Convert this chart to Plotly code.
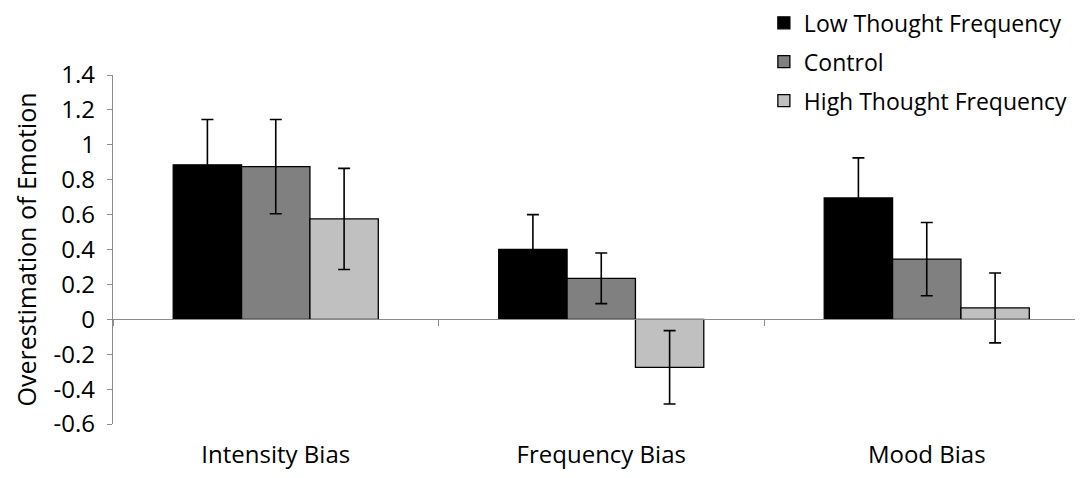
import plotly.graph_objects as go

categories = ["Intensity Bias", "Frequency Bias", "Mood Bias"]
series_names = ["Low Thought Frequency", "Control", "High Thought Frequency"]
low_vals = [0.885, 0.40, 0.695]
low_err = [0.26, 0.20, 0.23]
control_vals = [0.875, 0.235, 0.345]
control_err = [0.27, 0.145, 0.21]
high_vals = [0.575, -0.275, 0.065]
high_err = [0.29, 0.21, 0.20]
y_ticks = [-0.6, -0.4, -0.2, 0, 0.2, 0.4, 0.6, 0.8, 1, 1.2, 1.4]
y_tick_text = ["-0.6", "-0.4", "-0.2", "0", "0.2", "0.4", "0.6", "0.8", "1", "1.2", "1.4"]

colors = ["#000000", "#808080", "#C0C0C0"]
FONT = "Open Sans"
AX = "#8C8C8C"

fig = go.Figure()
for i, (name, vals, errs) in enumerate(zip(series_names,
                                            [low_vals, control_vals, high_vals],
                                            [low_err, control_err, high_err])):
    fig.add_trace(go.Bar(
        x=categories, y=vals, name=name,
        marker=dict(color=colors[i], line=dict(color="#000000", width=1.3)),
        error_y=dict(type="data", array=errs, visible=True,
                     color="#000000", thickness=1.6, width=6),
        legendgroup=f"g{i}",
    ))

# invisible trace to carry bottom category labels
fig.add_trace(go.Scatter(x=categories, y=[0, 0, 0], xaxis="x2", mode="markers",
                         marker=dict(opacity=0), showlegend=False, hoverinfo="skip"))

xr = [-0.5, 2.48]
fig.update_layout(
    width=1075, height=470,
    margin=dict(l=105, r=0, t=67, b=54, autoexpand=False),
    paper_bgcolor="white", plot_bgcolor="white",
    barmode="group", bargap=0.37, bargroupgap=0,
    font=dict(family=FONT, color="#000000", size=22),
    showlegend=True,
    legend=dict(x=0.671, y=1.211, xanchor="left", yanchor="top",
                font=dict(family=FONT, size=23, color="#000000"),
                tracegroupgap=6, bgcolor="rgba(0,0,0,0)", itemwidth=30),
    xaxis=dict(type="category", range=xr, anchor="free", position=0.3,
               showline=True, linecolor=AX, linewidth=1.3,
               ticks="outside", tickson="boundaries", ticklen=6, tickcolor=AX,
               showticklabels=False, showgrid=False, zeroline=False),
    xaxis2=dict(type="category", range=xr, overlaying="x", anchor="y", side="bottom",
                showline=False, ticks="", showgrid=False, zeroline=False,
                ticklabelstandoff=14,
                tickfont=dict(family=FONT, size=24, color="#000000")),
    yaxis=dict(range=[-0.6, 1.4], tickvals=y_ticks, ticktext=y_tick_text,
               showline=True, linecolor=AX, linewidth=1.3,
               ticks="outside", ticklen=5, tickcolor=AX,
               ticklabelstandoff=7, automargin=True,
               showgrid=False, zeroline=False,
               tickfont=dict(family=FONT, size=24, color="#000000"),
               title=dict(text="Overestimation of Emotion", standoff=9,
                          font=dict(family=FONT, size=25, color="#000000"))),
)

fig.write_html("out.html")
